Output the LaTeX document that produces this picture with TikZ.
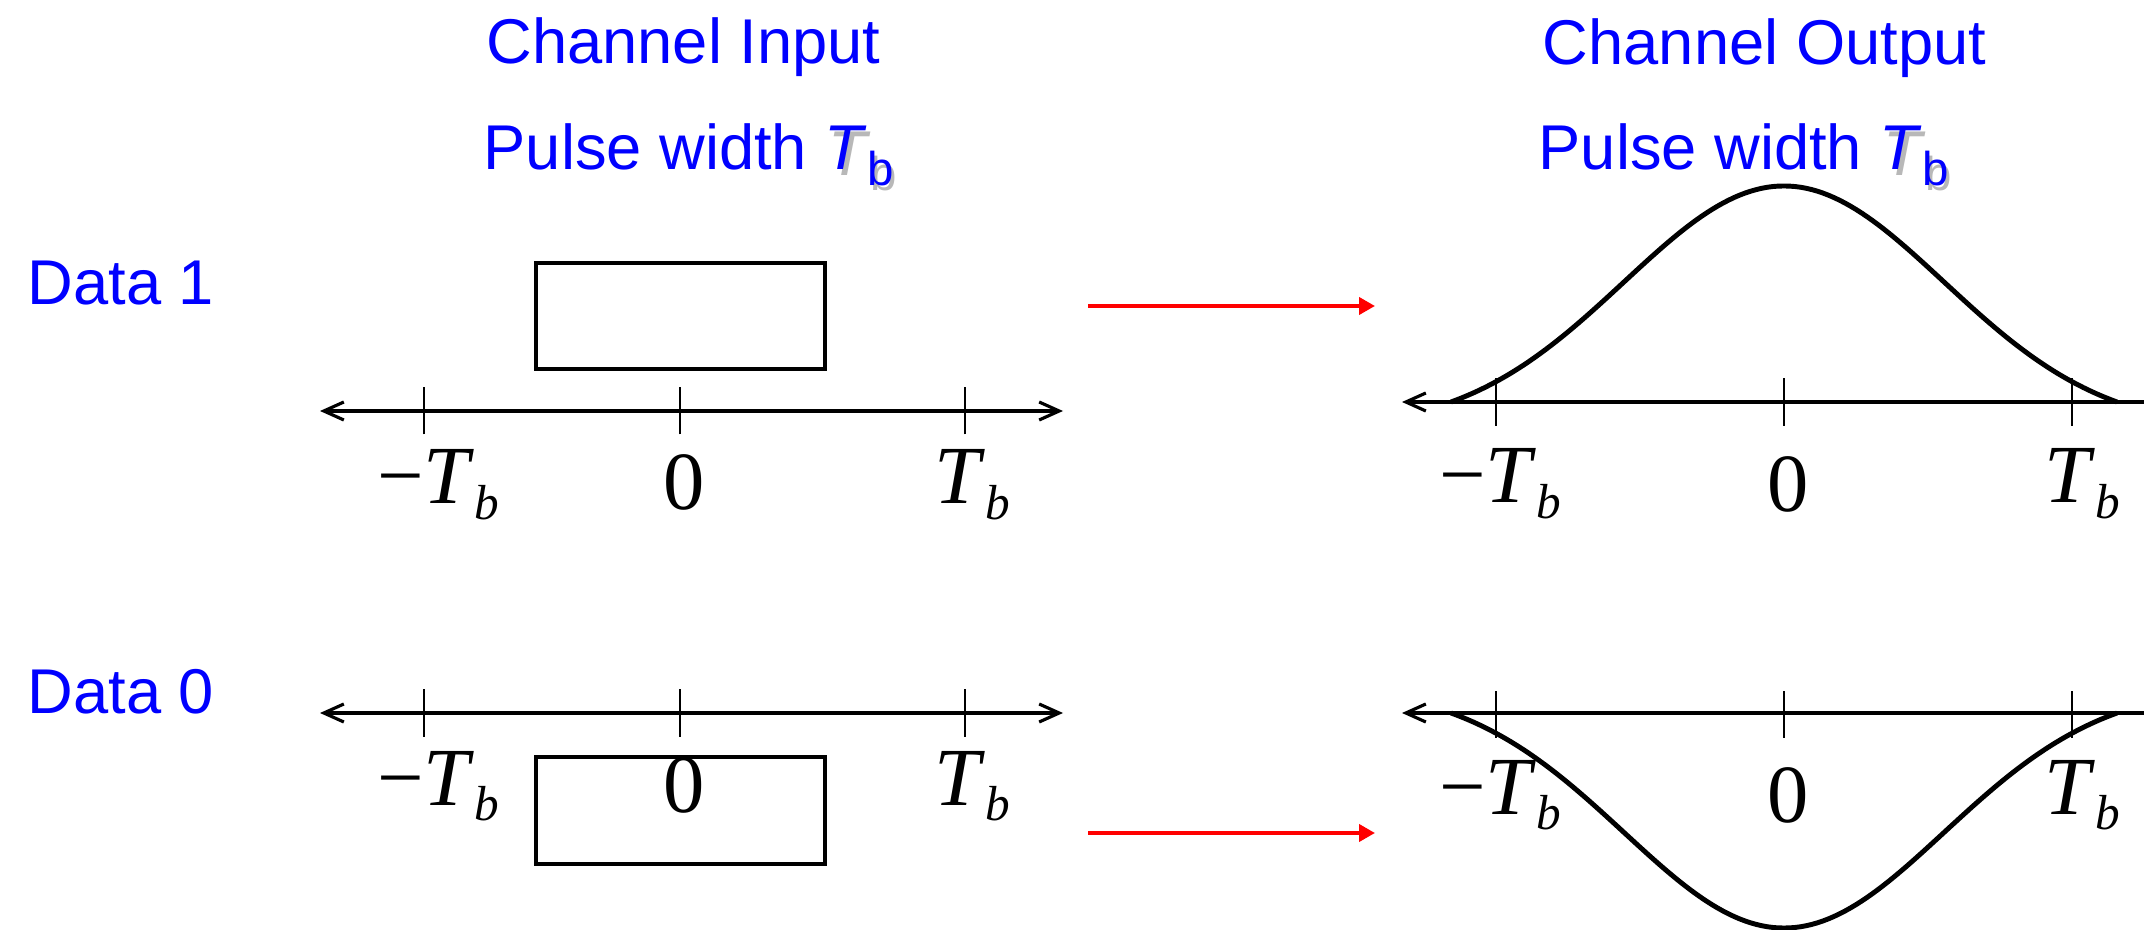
\documentclass[tikz,border=0pt]{standalone}
\usepackage{fontspec}
\setmainfont{Liberation Sans}
\newfontfamily\timesfont{Liberation Serif}
\usetikzlibrary{arrows.meta}
\definecolor{headblue}{RGB}{0,0,255}
\definecolor{flowred}{RGB}{255,0,0}

% T_b in the headings (sans, with a soft shadow) and under the axes (serif)
\newcommand{\headTb}{\textit{T}\raisebox{-4.3pt}{\fontsize{13.5}{14}\selectfont b}}
\newcommand{\shadowTb}{\makebox[0pt][l]{\hspace{1pt}\raisebox{-1.6pt}{\color{black!28}\headTb}}\headTb}
\newcommand{\axisTb}{\textit{T}\raisebox{-4.5pt}{\fontsize{14}{14}\selectfont\textit{b}}}

\begin{document}
\begin{tikzpicture}[x=1cm,y=1cm,>={Straight Barb[length=2mm,width=1.8mm]},
  heading/.style={inner sep=0pt,text=headblue,font=\fontsize{18}{22}\selectfont},
  ticklabel/.style={inner sep=0pt,anchor=base,font=\timesfont\fontsize{23.5}{26}\selectfont},
  timeaxis/.style={line width=0.9pt},
  tickmark/.style={line width=0.8pt},
  pulsebox/.style={line width=0.9pt},
  channelpulse/.style={line width=1.4pt,line join=round,domain=-3.33:3.33,samples=121},
  flowarrow/.style={draw=flowred,line width=1.1pt,-{Triangle[length=1.6mm,width=1.7mm]}}]
\useasboundingbox (0,0) rectangle (21.44,9.29);

% headings
\node[heading,anchor=base] (inhead) at (6.835,8.65) {Channel Input};
\node[heading,anchor=base west] (inwidth) at (4.83,7.59) {Pulse width \shadowTb};
\node[heading,anchor=base] (outhead) at (17.645,8.64) {Channel Output};
\node[heading,anchor=base west] (outwidth) at (15.38,7.59) {Pulse width \shadowTb};
\node[heading,anchor=base west] (dataone) at (0.27,6.24) {Data 1};
\node[heading,anchor=base west] (datazero) at (0.27,2.16) {Data 0};

% input, data 1
\coordinate (inoneL) at (3.20,5.18);
\coordinate (inoneR) at (10.63,5.18);
\draw[timeaxis,<->] (inoneL) -- (inoneR);
\draw[tickmark] (4.24,4.945) -- (4.24,5.415);
\draw[tickmark] (6.80,4.945) -- (6.80,5.415);
\draw[tickmark] (9.65,4.945) -- (9.65,5.415);
\draw[pulsebox] (5.36,5.60) rectangle (8.25,6.66);
\node[ticklabel] (inoneneg) at (4.38,4.25) {−\axisTb};
\node[ticklabel] (inonezero) at (6.84,4.19) {0};
\node[ticklabel] (inonepos) at (9.72,4.25) {\axisTb};

% input, data 0
\coordinate (inzeroL) at (3.20,2.16);
\coordinate (inzeroR) at (10.63,2.16);
\draw[timeaxis,<->] (inzeroL) -- (inzeroR);
\draw[tickmark] (4.24,1.925) -- (4.24,2.395);
\draw[tickmark] (6.80,1.925) -- (6.80,2.395);
\draw[tickmark] (9.65,1.925) -- (9.65,2.395);
\draw[pulsebox] (5.36,0.65) rectangle (8.25,1.72);
\node[ticklabel] (inzeroneg) at (4.38,1.24) {−\axisTb};
\node[ticklabel] (inzerozero) at (6.84,1.17) {0};
\node[ticklabel] (inzeropos) at (9.72,1.24) {\axisTb};

% through the channel
\coordinate (onefrom) at (10.88,6.23);
\coordinate (oneto) at (13.75,6.23);
\coordinate (zerofrom) at (10.88,0.96);
\coordinate (zeroto) at (13.75,0.96);
\draw[flowarrow] (onefrom) -- (oneto);
\draw[flowarrow] (zerofrom) -- (zeroto);

% output, data 1
\coordinate (outoneL) at (14.02,5.27);
\coordinate (outoneR) at (21.44,5.27);
\draw[timeaxis,<-] (outoneL) -- (outoneR);
\draw[tickmark] (14.96,5.03) -- (14.96,5.51);
\draw[tickmark] (17.84,5.03) -- (17.84,5.51);
\draw[tickmark] (20.72,5.03) -- (20.72,5.51);
\begin{scope}[shift={(17.84,5.27)}]
\draw[channelpulse] plot (\x,{2.16*(exp(-(\x)*(\x)/5.12)-0.1146)/0.8854});
\end{scope}
\node[ticklabel] (outoneneg) at (15.00,4.26) {−\axisTb};
\node[ticklabel] (outonezero) at (17.88,4.18) {0};
\node[ticklabel] (outonepos) at (20.82,4.26) {\axisTb};

% output, data 0
\coordinate (outzeroL) at (14.02,2.16);
\coordinate (outzeroR) at (21.44,2.16);
\draw[timeaxis,<-] (outzeroL) -- (outzeroR);
\draw[tickmark] (14.96,1.91) -- (14.96,2.38);
\draw[tickmark] (17.84,1.91) -- (17.84,2.38);
\draw[tickmark] (20.72,1.91) -- (20.72,2.38);
\begin{scope}[shift={(17.84,2.16)},yscale=-1]
\draw[channelpulse] plot (\x,{2.15*(exp(-(\x)*(\x)/5.12)-0.1146)/0.8854});
\end{scope}
\node[ticklabel] (outzeroneg) at (15.00,1.15) {−\axisTb};
\node[ticklabel] (outzerozero) at (17.88,1.07) {0};
\node[ticklabel] (outzeropos) at (20.82,1.15) {\axisTb};
\end{tikzpicture}
\end{document}
